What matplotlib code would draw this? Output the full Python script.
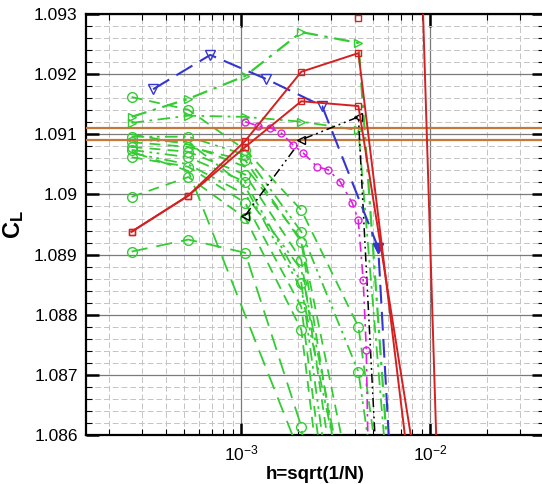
import matplotlib
matplotlib.use("Agg")
import matplotlib.pyplot as plt
from matplotlib.ticker import MultipleLocator, LogLocator, FuncFormatter, NullFormatter

plt.rcParams['font.family'] = ['Liberation Sans', 'DejaVu Sans']
plt.rcParams['mathtext.fontset'] = 'custom'
plt.rcParams['mathtext.rm'] = 'Liberation Sans'
plt.rcParams['mathtext.bf'] = 'Liberation Sans:bold'
plt.rcParams['mathtext.it'] = 'Liberation Sans:italic'

# ---- data ----
h_cols = [2.63e-4, 5.25e-4, 1.05e-3, 2.08e-3, 4.17e-3, 6.2e-3]

g01_cl = [1.09129, 1.09159, 1.09197, 1.09270, 1.09252, 1.08493]
g02_cl = [1.09119, 1.09131, 1.09129, 1.09121, 1.09107, 1.08459]
g03_cl = [1.09162, 1.09141, 1.09074, 1.08974, 1.08780, 1.08393]
g04_cl = [1.09096, 1.09096, 1.09066, 1.08938, 1.08705, 1.08327]
g05_cl = [1.09087, 1.09079, 1.09057, 1.08921, 1.08327]
g06_cl = [1.09079, 1.09071, 1.09033, 1.08891, 1.08244]
g07_cl = [1.09074, 1.09062, 1.09021, 1.08853, 1.08160]
g08_cl = [1.09062, 1.09046, 1.08986, 1.08813, 1.08077]
g09_cl = [1.08996, 1.09029, 1.08961, 1.08775, 1.07994]
g10_cl = [1.08905, 1.08925, 1.08903, 1.08614, 1.07828]
g11_h = [2.63e-4, 5.25e-4, 2.2e-3]
g11_cl = [1.09071, 1.09039, 1.08543]
g12_cl = [1.09091, 1.09087, 1.09013, 1.08842, 1.08393]
g13_cl = [1.09100, 1.09083, 1.09046, 1.08925, 1.08459]
g14_cl = [1.09069, 1.09050, 1.09000, 1.08875, 1.08393]

redA_h = [2.63e-4, 5.25e-4, 1.05e-3, 2.08e-3, 4.17e-3, 8.5e-3]
redA_cl = [1.08938, 1.08998, 1.09089, 1.09204, 1.09235, 1.08436]
redB_h = [2.63e-4, 5.25e-4, 1.05e-3, 2.08e-3, 4.17e-3, 8.5e-3]
redB_cl = [1.08938, 1.08998, 1.09079, 1.09155, 1.09147, 1.08536]
redC_h = [4.17e-3]
redC_cl = [1.09293]
redD_h = [8.96e-3, 1.10e-2]
redD_cl = [1.0940, 1.0850]

blue_h = [3.42e-4, 6.86e-4, 1.356e-3, 2.68e-3, 5.31e-3, 6.3e-3]
blue_cl = [1.09175, 1.09232, 1.09192, 1.09147, 1.08911, 1.08493]

black_h = [1.05e-3, 2.08e-3, 4.17e-3, 5.5e-3]
black_cl = [1.08965, 1.09091, 1.09129, 1.0840]

mag_h = [1.050e-3, 1.230e-3, 1.424e-3, 1.629e-3, 1.884e-3, 2.128e-3, 2.524e-3,
         2.886e-3, 3.341e-3, 3.867e-3, 4.16e-3, 4.42e-3, 4.59e-3, 4.70e-3]
mag_cl = [1.09121, 1.09114, 1.09111, 1.09102, 1.09082, 1.09069, 1.09046,
          1.09041, 1.09021, 1.08986, 1.08958, 1.08858, 1.08742, 1.08559]

ref_cl = [1.0911, 1.0909]

yticks = [1.086, 1.087, 1.088, 1.089, 1.09, 1.091, 1.092, 1.093]

# ---- figure ----
fig = plt.figure(figsize=(5.42, 4.84), dpi=100)
ax = fig.add_axes([0.1587, 0.1012, 0.845, 0.8698])
ax.set_xscale('log')
ax.set_xlim(1.51e-4, 4.0e-2)
ax.set_ylim(1.086, 1.093)

GREEN = '#33cc33'
dashed = (0, (6, 4))
dashdot = (0, (7, 3, 1.5, 3))
dashdotdot = (0, (7, 3, 1.5, 2.5, 1.5, 3))
longdash = (0, (9, 5))

def gplot(h, cl, ls, mk, lw=1.3):
    ax.plot(h, cl, color=GREEN, ls=ls, lw=lw, marker=mk, ms=7 if mk == 'o' else 6,
            mfc='none', mec=GREEN, mew=1.0, zorder=3)

gplot(h_cols, g01_cl, dashdot, '>', lw=1.6)
gplot(h_cols, g02_cl, dashdot, '>')
gplot(h_cols, g03_cl, dashed, 'o')
gplot(h_cols, g04_cl, dashdotdot, 'o')
gplot(h_cols[:5], g05_cl, dashed, 'o')
gplot(h_cols[:5], g06_cl, dashed, 'o')
gplot(h_cols[:5], g07_cl, dashdotdot, 'o')
gplot(h_cols[:5], g08_cl, dashed, 'o')
gplot(h_cols[:5], g09_cl, dashed, 'o')
gplot(h_cols[:5], g10_cl, longdash, 'o')
gplot(g11_h, g11_cl, longdash, None)
gplot(h_cols[:5], g12_cl, dashdotdot, None)
gplot(h_cols[:5], g13_cl, dashed, None)
gplot(h_cols[:5], g14_cl, dashdotdot, None)

for v in ref_cl:
    ax.axhline(v, color='#c8773a', lw=1.6, zorder=4)

ax.plot(black_h, black_cl, color='black', ls=(0, (6, 2.5, 1.2, 2.5, 1.2, 2.5)), lw=1.1,
        marker='<', ms=6, mfc='none', mec='black', zorder=5)
ax.plot(mag_h, mag_cl, color='#e020e0', ls=(0, (6, 3, 1.5, 3)), lw=1.2,
        marker='o', ms=5, mfc='none', mec='#e020e0', zorder=5)
ax.plot(blue_h, blue_cl, color='#3535d0', ls=(0, (9, 4)), lw=1.5,
        marker='v', ms=7, mfc='none', mec='#3535d0', zorder=6)
ax.plot(blue_h[4:5], blue_cl[4:5], ls='none', marker='v', ms=7, color='#3535d0', zorder=6)

RED = '#d42020'
for hh, cc in [(redA_h, redA_cl), (redB_h, redB_cl), (redD_h, redD_cl)]:
    ax.plot(hh, cc, color=RED, lw=1.4, marker='s', ms=4, mfc='none', mec=RED, zorder=7)
ax.plot(redC_h, redC_cl, ls='none', color=RED, marker='s', ms=5, mfc='none', mec=RED,
        zorder=7, clip_on=False)

# ---- axes styling ----
ax.set_yticks(yticks)
ax.yaxis.set_minor_locator(MultipleLocator(0.0002))
ax.yaxis.set_major_formatter(FuncFormatter(lambda v, p: f"{v:.3f}".rstrip('0')))
ax.xaxis.set_major_locator(LogLocator(base=10))
ax.xaxis.set_minor_locator(LogLocator(base=10, subs=[2, 3, 4, 5, 6, 7, 8, 9]))
ax.xaxis.set_minor_formatter(NullFormatter())

ax.grid(which='major', color='#7a7a7a', lw=0.9, ls='-', zorder=0)
ax.grid(which='minor', color='#c4c4c4', lw=0.7, ls=(0, (6, 3)), zorder=0)
ax.set_axisbelow(True)

ax.tick_params(which='major', direction='in', length=9, width=1.8, top=True, right=True,
               labelsize=12.5, pad=6)
ax.tick_params(which='minor', direction='in', length=4, width=0.8, top=True, right=True)
for s in ax.spines.values():
    s.set_linewidth(1.6)

ax.set_xlabel('h=sqrt(1/N)', fontsize=13.5, fontweight='bold', labelpad=2)
ax.set_ylabel(r'$\mathbf{C_L}$', fontsize=17, labelpad=6)

fig.savefig('out.png', dpi=100)
